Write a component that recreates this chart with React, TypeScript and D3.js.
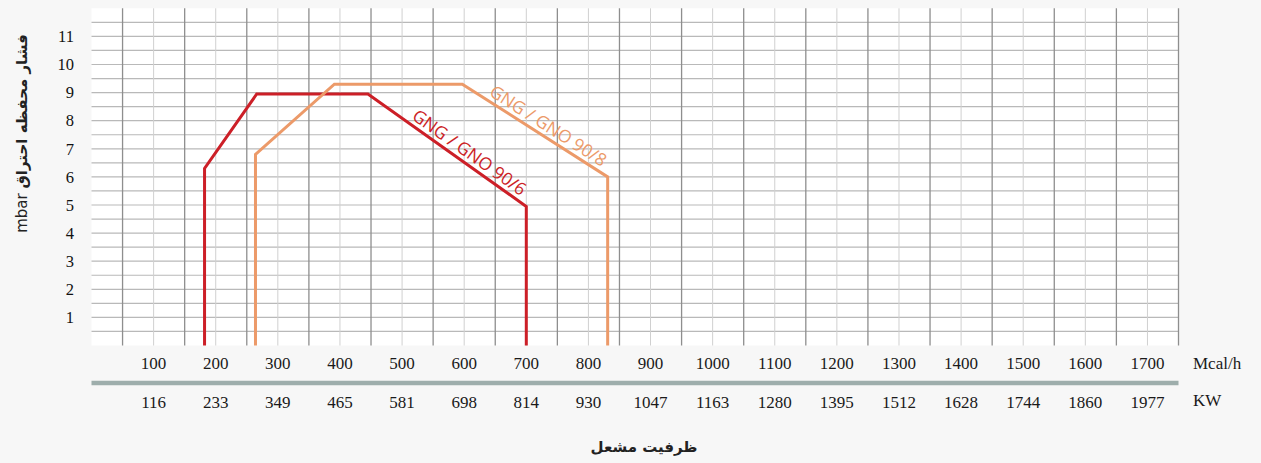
import React from "react";
import * as d3 from "d3";

// Mcal/h ticks on the upper row, matching KW on the lower row
const mcalTicks = [100, 200, 300, 400, 500, 600, 700, 800, 900, 1000, 1100, 1200, 1300, 1400, 1500, 1600, 1700];
const kwTicks = [116, 233, 349, 465, 581, 698, 814, 930, 1047, 1163, 1280, 1395, 1512, 1628, 1744, 1860, 1977];
const pressureTicks = [1, 2, 3, 4, 5, 6, 7, 8, 9, 10, 11];

// working fields [Mcal/h, mbar]
const gno906: [number, number][] = [
  [182, 0],
  [182, 6.3],
  [266, 8.95],
  [445, 8.95],
  [700, 4.95],
  [700, 0],
];
const gno908: [number, number][] = [
  [264, 0],
  [264, 6.8],
  [391, 9.3],
  [597, 9.3],
  [831, 6],
  [831, 0],
];

const series = [
  { name: "GNG / GNO 90/6", data: gno906, color: "#cc1f27", seg: 3, t: 0.6 },
  { name: "GNG / GNO 90/8", data: gno908, color: "#ec9a69", seg: 3, t: 0.55 },
];

const width = 1261;
const height = 463;

function App() {
  const x = d3.scaleLinear().domain([0, 1750]).range([91.5, 1178.5]);
  const y = d3.scaleLinear().domain([0, 12]).range([345.5, 8.3]);

  const line = d3
    .line<[number, number]>()
    .x(d => x(d[0]))
    .y(d => y(d[1]));

  const vLines = d3.range(50, 1751, 50);
  const hLines = d3.range(0.5, 11.6, 0.5);

  const serif = "'Liberation Serif', 'DejaVu Serif', serif";

  return (
    <svg
      width={width}
      height={height}
      style={{ position: "absolute", left: 0, top: 0, display: "block" }}
    >
      <rect width={width} height={height} fill="#f7f7f7" />
      <rect
        x={x(0)}
        y={y(12)}
        width={x(1750) - x(0)}
        height={y(0) - y(12)}
        fill="#ffffff"
      />

      {hLines.map(v => (
        <line
          key={"h" + v}
          x1={x(0)}
          x2={x(1750)}
          y1={y(v)}
          y2={y(v)}
          stroke="#b9b9b9"
          strokeWidth={1.2}
        />
      ))}
      {vLines.map(v => {
        const dark = (v / 50) % 2 === 1;
        return (
          <line
            key={"v" + v}
            x1={x(v)}
            x2={x(v)}
            y1={y(12)}
            y2={y(0)}
            stroke={dark ? "#8e8e8e" : "#d0d0d0"}
            strokeWidth={dark ? 1.3 : 1}
          />
        );
      })}

      {series.map(s => (
        <path
          key={s.name}
          d={line(s.data) ?? undefined}
          fill="none"
          stroke={s.color}
          strokeWidth={3}
          strokeLinejoin="miter"
        />
      ))}

      {series.map(s => {
        const a = s.data[s.seg];
        const b = s.data[s.seg + 1];
        const x0 = x(a[0]);
        const y0 = y(a[1]);
        const x1 = x(b[0]);
        const y1 = y(b[1]);
        const angle = (Math.atan2(y1 - y0, x1 - x0) * 180) / Math.PI;
        const px = x0 + (x1 - x0) * s.t;
        const py = y0 + (y1 - y0) * s.t;
        return (
          <text
            key={"l" + s.name}
            transform={`translate(${px},${py}) rotate(${angle})`}
            y={-5}
            textAnchor="middle"
            fontFamily="'Open Sans', sans-serif"
            fontSize={17.5}
            fill={s.color}
          >
            {s.name}
          </text>
        );
      })}

      {pressureTicks.map(v => (
        <text
          key={"yt" + v}
          x={74}
          y={y(v)}
          dy="0.35em"
          textAnchor="end"
          fontFamily={serif}
          fontSize={16.5}
          fill="#111"
        >
          {v}
        </text>
      ))}

      <text
        transform={`translate(27,${(35 + 232) / 2}) rotate(-90)`}
        textAnchor="middle"
        fontFamily="'DejaVu Sans', sans-serif"
        fontSize={15}
        fill="#222"
      >
        mbar <tspan fontWeight="bold">فشار محفظه احتراق</tspan>
      </text>

      {mcalTicks.map(v => (
        <text
          key={"m" + v}
          x={x(v)}
          y={369}
          textAnchor="middle"
          fontFamily={serif}
          fontSize={17}
          fill="#1a1a1a"
        >
          {v}
        </text>
      ))}
      <text x={1193} y={369} fontFamily={serif} fontSize={17} fill="#1a1a1a">
        Mcal/h
      </text>

      <line
        x1={x(0)}
        x2={x(1750)}
        y1={383}
        y2={383}
        stroke="#9eaeac"
        strokeWidth={4.3}
      />

      {kwTicks.map((v, i) => (
        <text
          key={"k" + v}
          x={x(mcalTicks[i])}
          y={408}
          textAnchor="middle"
          fontFamily={serif}
          fontSize={17}
          fill="#1a1a1a"
        >
          {v}
        </text>
      ))}
      <text x={1193} y={406} fontFamily={serif} fontSize={17} fill="#1a1a1a">
        KW
      </text>

      <text
        x={644}
        y={452}
        textAnchor="middle"
        fontFamily="'DejaVu Sans', sans-serif"
        fontWeight="bold"
        fontSize={15}
        fill="#222"
      >
        ظرفیت مشعل
      </text>
    </svg>
  );
}

export default App;
